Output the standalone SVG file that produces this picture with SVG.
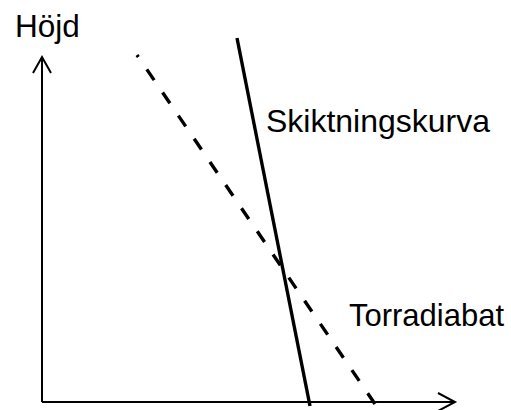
<svg xmlns="http://www.w3.org/2000/svg" width="511" height="410" viewBox="0 0 511 410">
<style>
.lbl{font-family:"Liberation Sans",Arial,sans-serif;font-size:31.5px;fill:#000}
.axis{stroke:#000;stroke-width:2;fill:none}
.curve{stroke:#000;stroke-width:3.4;fill:none}
</style>
<rect width="511" height="410" fill="#fff"/>
<g id="axes">
<line class="axis" x1="42" y1="402" x2="42" y2="57"/>
<line class="axis" x1="42" y1="402" x2="455" y2="402"/>
<polyline class="axis" points="33,73 42,57 51,73"/>
<polyline class="axis" points="438,393 455,402 438,411"/>
</g>
<g id="connectors">
<line id="skiktningskurva-line" class="curve" x1="237" y1="38" x2="310" y2="406"/>
<line id="torradiabat-line" class="curve" x1="375" y1="404" x2="137" y2="55" stroke-dasharray="13 15"/>
</g>
<g id="label-hojd"><text class="lbl" x="15" y="37">Höjd</text></g>
<g id="label-skiktningskurva"><text class="lbl" x="266" y="132" textLength="224" lengthAdjust="spacingAndGlyphs">Skiktningskurva</text></g>
<g id="label-torradiabat"><text class="lbl" x="349" y="326" textLength="155" lengthAdjust="spacingAndGlyphs">Torradiabat</text></g>
</svg>
